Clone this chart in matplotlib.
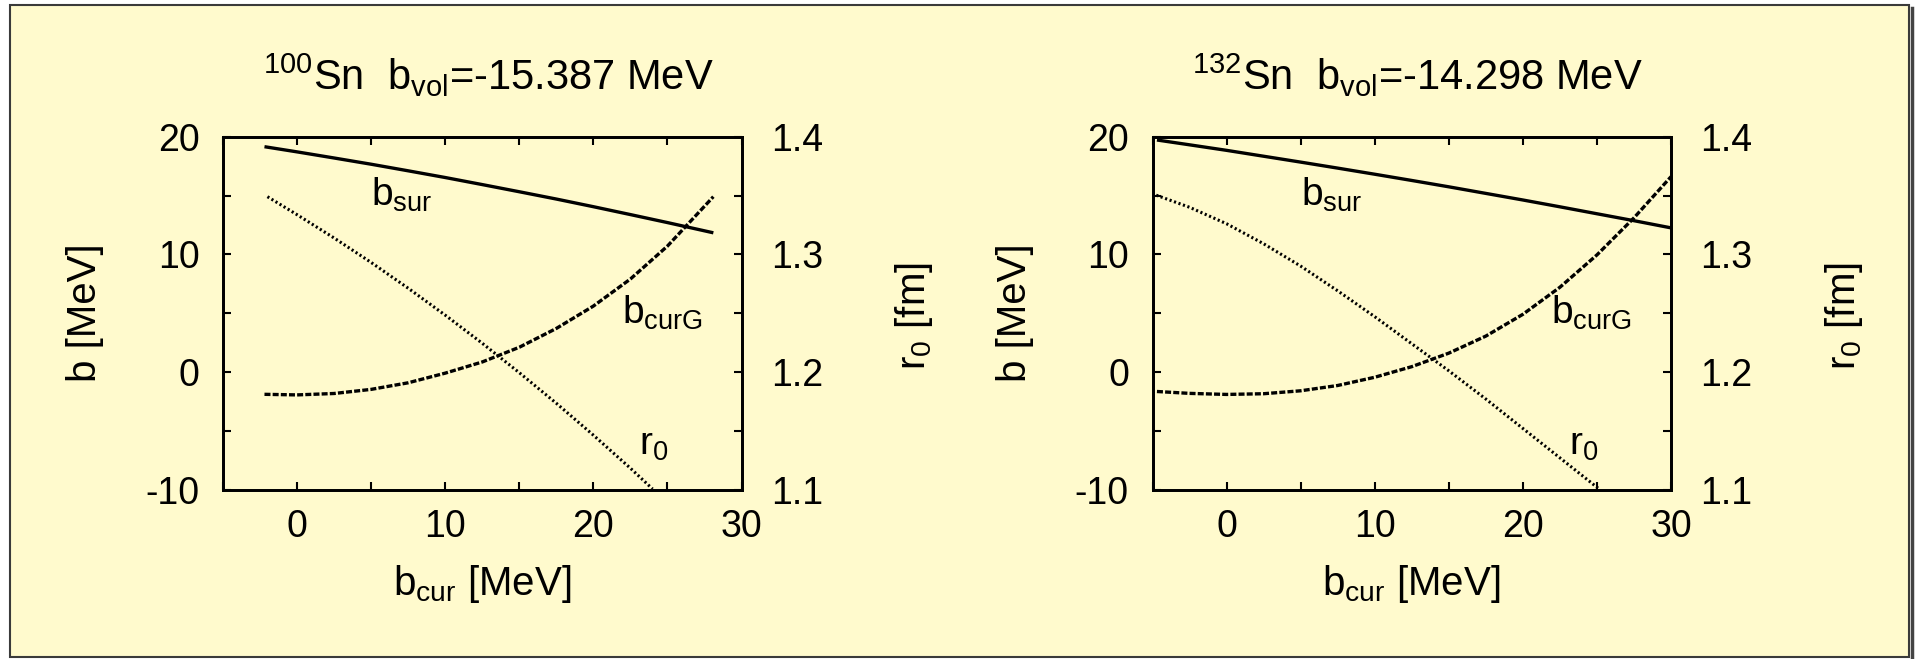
import matplotlib
matplotlib.use("Agg")
import matplotlib.pyplot as plt
from matplotlib.patches import Rectangle
from matplotlib.lines import Line2D
from matplotlib.ticker import MultipleLocator, FormatStrFormatter

plt.rcParams["font.family"] = ["Liberation Sans", "DejaVu Sans"]
plt.rcParams["mathtext.fontset"] = "custom"
plt.rcParams["mathtext.rm"] = "Liberation Sans"
plt.rcParams["mathtext.it"] = "Liberation Sans:italic"
plt.rcParams["mathtext.bf"] = "Liberation Sans:bold"
plt.rcParams["mathtext.sf"] = "Liberation Sans"
plt.rcParams["mathtext.default"] = "rm"
plt.rcParams["axes.unicode_minus"] = False

# ---------------- data ----------------
# 100Sn
bcur_100 = [-2.2, 0, 2.5, 5, 7.5, 10, 12.5, 15, 17.5, 20, 22.5, 25, 28.1]
bsur_100 = [19.15, 18.71, 18.19, 17.66, 17.10, 16.53, 15.93, 15.32, 14.70, 14.05, 13.38, 12.70, 11.83]
bcurg_100 = [-1.90, -1.95, -1.83, -1.48, -0.92, -0.10, 0.85, 2.10, 3.70, 5.60, 7.90, 10.70, 14.90]
r0x_100 = [-2.0, 0, 2.5, 5, 7.5, 10, 12.5, 15, 17.5, 20, 22.5, 24.0]
r0_100 = [1.349, 1.3337, 1.3139, 1.2931, 1.2712, 1.2483, 1.2244, 1.1994, 1.1734, 1.1463, 1.1182, 1.1005]

# 132Sn
bcur_132 = [-4.7, -2.5, 0, 2.5, 5, 7.5, 10, 12.5, 15, 17.5, 20, 22.5, 25, 27.5, 30]
bsur_132 = [19.72, 19.31, 18.84, 18.34, 17.84, 17.33, 16.81, 16.28, 15.74, 15.18, 14.62, 14.04, 13.45, 12.86, 12.25]
bcurg_132 = [-1.66, -1.82, -1.91, -1.85, -1.60, -1.15, -0.45, 0.45, 1.60, 3.05, 4.90, 7.20, 9.95, 13.10, 16.60]
r0x_132 = [-4.75, -2.5, 0, 2.5, 5, 7.5, 10, 12.5, 15, 17.5, 20, 22.5, 25.2]
r0_132 = [1.3503, 1.340, 1.326, 1.309, 1.290, 1.269, 1.247, 1.224, 1.201, 1.177, 1.152, 1.127, 1.100]

titles = [r"$^{100}$Sn  b$_{\mathrm{vol}}$=-15.387 MeV",
          r"$^{132}$Sn  b$_{\mathrm{vol}}$=-14.298 MeV"]

# ---------------- layout ----------------
W, H = 1917, 659
BG = "#FFFACD"
fig = plt.figure(figsize=(W / 100, H / 100), dpi=100, facecolor="white")

# outer frame with shadow on the right
fig.patches.append(Rectangle((10 / W, 2 / H), 1899 / W, 652 / H, transform=fig.transFigure,
                             facecolor=BG, edgecolor="#3a3a3a", lw=1.5, zorder=-2))
fig.lines.append(Line2D([1911.5 / W, 1911.5 / W], [2 / H, 1 - 8 / H], transform=fig.transFigure,
                        color="#444444", lw=2.5, zorder=-1))

AX_Y0 = (H - 489.6) / H
AX_H = 352.9 / H
AX_W = 518.5 / W
PANEL_X = [223.0, 1152.5]

TICK_FS = 27
LABEL_FS = 29
TITLE_FS = 30


def draw_panel(x0, title, x, bsur, bcurg, r0x, r0):
    ax = fig.add_axes([x0 / W, AX_Y0, AX_W, AX_H])
    ax.patch.set_visible(False)
    ax2 = ax.twinx()
    ax2.patch.set_visible(False)

    ax.plot(x, bsur, color="black", lw=2.4, solid_capstyle="butt", solid_joinstyle="round")
    ax.plot(x, bcurg, color="black", lw=2.4, dashes=(1.8, 0.65))
    ax2.plot(r0x, r0, color="black", lw=2.2, dashes=(0.7, 0.85))

    ax.set_xlim(-5, 30)
    ax.set_ylim(-10, 20)
    ax2.set_ylim(1.1, 1.4)

    ax.xaxis.set_major_locator(MultipleLocator(10))
    ax.xaxis.set_minor_locator(MultipleLocator(5))
    ax.yaxis.set_major_locator(MultipleLocator(10))
    ax.yaxis.set_minor_locator(MultipleLocator(5))
    ax2.yaxis.set_major_locator(MultipleLocator(0.1))
    ax2.yaxis.set_minor_locator(MultipleLocator(0.05))
    ax2.yaxis.set_major_formatter(FormatStrFormatter("%.1f"))

    for a in (ax, ax2):
        for s in a.spines.values():
            s.set_linewidth(2.0)
    ax.tick_params(axis="both", which="both", direction="in", length=6, width=1.5,
                   top=True, right=False, labelsize=TICK_FS)
    ax.tick_params(axis="x", which="major", pad=14)
    ax.tick_params(axis="y", which="major", pad=17)
    ax2.tick_params(axis="y", which="both", direction="in", length=6, width=1.5,
                    labelsize=TICK_FS, pad=21)

    # curve labels
    ax.text(5.0, 14.1, r"b$_{\mathrm{sur}}$", fontsize=28, ha="left", va="baseline")
    ax.text(21.9, 4.1, r"b$_{\mathrm{curG}}$", fontsize=28, ha="left", va="baseline")
    ax.text(23.1, -7.0, r"r$_0$", fontsize=28, ha="left", va="baseline")

    # title and axis labels
    fig.text((x0 + 40) / W, 1 - 89.6 / H, title, fontsize=TITLE_FS, ha="left", va="baseline")
    off = x0 - PANEL_X[0]
    fig.text((85 + off) / W, 1 - 313 / H, "b [MeV]", rotation=90, fontsize=LABEL_FS,
             ha="center", va="center")
    fig.text((914 + off) / W, 1 - 316 / H, r"r$_0$ [fm]", rotation=90, fontsize=LABEL_FS,
             ha="center", va="center")
    fig.text((482 + off) / W, 1 - 584 / H, r"b$_{\mathrm{cur}}$ [MeV]", fontsize=LABEL_FS,
             ha="center", va="center")


draw_panel(PANEL_X[0], titles[0], bcur_100, bsur_100, bcurg_100, r0x_100, r0_100)
draw_panel(PANEL_X[1], titles[1], bcur_132, bsur_132, bcurg_132, r0x_132, r0_132)

fig.savefig("out.png", dpi=100, facecolor="white")
